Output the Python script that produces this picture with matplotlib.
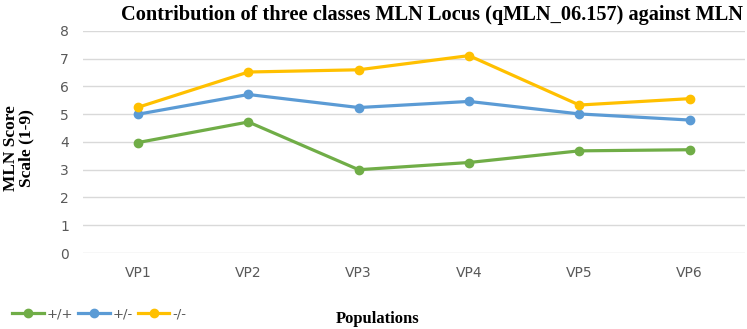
import matplotlib
matplotlib.use("Agg")
import matplotlib.pyplot as plt

categories = ["VP1", "VP2", "VP3", "VP4", "VP5", "VP6"]
series_names = ["+/+", "+/-", "-/-"]
homo_pos = [3.98, 4.72, 3.00, 3.26, 3.68, 3.72]
hetero = [5.00, 5.71, 5.24, 5.46, 5.01, 4.79]
homo_neg = [5.25, 6.52, 6.60, 7.11, 5.33, 5.56]
colors = ["#70ad47", "#5b9bd5", "#ffc000"]
yticks = [0, 1, 2, 3, 4, 5, 6, 7, 8]

fig = plt.figure(figsize=(7.47, 3.29), dpi=100)
ax = fig.add_axes([0.111, 0.231, 0.886, 0.675])

x = list(range(len(categories)))
handles = []
for vals, c, name in zip([homo_pos, hetero, homo_neg], colors, series_names):
    h, = ax.plot(x, vals, color=c, lw=2.3, marker="o", markersize=6,
                 markerfacecolor=c, markeredgecolor=c, label=name, zorder=3)
    handles.append(h)

ax.set_xlim(-0.5, len(categories) - 0.5)
ax.set_ylim(0, 8)
ax.set_yticks(yticks)
ax.set_xticks(x)
ax.set_xticklabels(categories)
ax.grid(axis="y", color="#d9d9d9", lw=1.0)
ax.set_axisbelow(True)
for s in ax.spines.values():
    s.set_visible(False)
ax.tick_params(axis="both", length=0, labelsize=10, labelcolor="#595959", pad=10)
for lab in ax.get_xticklabels() + ax.get_yticklabels():
    lab.set_family(["Liberation Sans Narrow", "DejaVu Sans"])
ax.tick_params(axis="x", pad=9)

fig.text(0.578, 0.955, "Contribution of three classes MLN Locus (qMLN_06.157) against MLN",
         ha="center", va="center", fontsize=14.7, fontweight="bold", family="Liberation Serif")
fig.text(0.025, 0.55, "MLN Score\nScale (1-9)", rotation=90, ha="center", va="center",
         fontsize=12.5, fontweight="bold", family="Liberation Serif", linespacing=1.0)
fig.text(0.505, 0.03, "Populations", ha="center", va="center",
         fontsize=12, fontweight="bold", family="Liberation Serif")

leg = fig.legend(handles=handles, labels=series_names, loc="center left",
                 bbox_to_anchor=(0.0, 0.045), ncol=3, frameon=False,
                 handlelength=2.4, handletextpad=0.2, columnspacing=0.4,
                 prop={"family": ["Liberation Sans Narrow", "DejaVu Sans"], "size": 9.5})
for t in leg.get_texts():
    t.set_color("#595959")

fig.savefig("out.png", dpi=100)
